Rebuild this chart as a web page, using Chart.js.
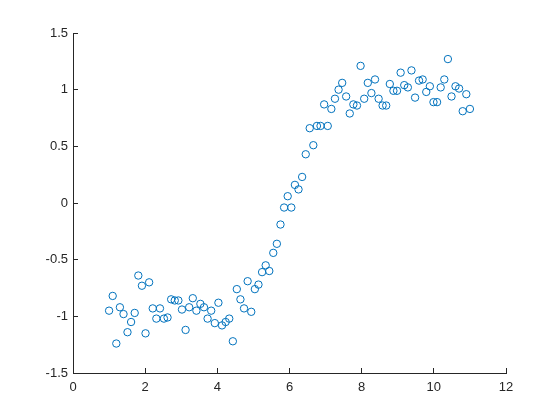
<!DOCTYPE html>
<html>
<head>
<meta charset="utf-8">
<script src="https://cdn.jsdelivr.net/npm/chart.js@4"></script>
<style>
  html, body { margin: 0; padding: 0; background: #ffffff; }
  canvas { display: block; }
</style>
</head>
<body>
<canvas id="scatterChart" width="560" height="420"></canvas>
<script>
const xValues = [
    1.00, 1.10, 1.20, 1.30, 1.40, 1.51, 1.61, 1.71, 1.81, 1.91,
    2.01, 2.11, 2.21, 2.31, 2.41, 2.52, 2.62, 2.72, 2.82, 2.92,
    3.02, 3.12, 3.22, 3.32, 3.42, 3.53, 3.63, 3.73, 3.83, 3.93,
    4.03, 4.13, 4.23, 4.33, 4.43, 4.54, 4.64, 4.74, 4.84, 4.94,
    5.04, 5.14, 5.24, 5.34, 5.44, 5.55, 5.65, 5.75, 5.85, 5.95,
    6.05, 6.15, 6.25, 6.35, 6.45, 6.56, 6.66, 6.76, 6.86, 6.96,
    7.06, 7.16, 7.26, 7.36, 7.46, 7.57, 7.67, 7.77, 7.87, 7.97,
    8.07, 8.17, 8.27, 8.37, 8.47, 8.58, 8.68, 8.78, 8.88, 8.98,
    9.08, 9.18, 9.28, 9.38, 9.48, 9.59, 9.69, 9.79, 9.89, 9.99,
    10.09, 10.19, 10.29, 10.39, 10.49, 10.60, 10.70, 10.80, 10.90, 11.00
];
const yValues = [
    -0.95, -0.82, -1.24, -0.92, -0.98, -1.14, -1.05, -0.97, -0.64, -0.73,
    -1.15, -0.70, -0.93, -1.02, -0.93, -1.02, -1.01, -0.85, -0.86, -0.86,
    -0.94, -1.12, -0.92, -0.84, -0.95, -0.89, -0.92, -1.02, -0.95, -1.06,
    -0.88, -1.08, -1.05, -1.02, -1.22, -0.76, -0.85, -0.93, -0.69, -0.96,
    -0.76, -0.72, -0.61, -0.55, -0.60, -0.44, -0.36, -0.19, -0.04, 0.06,
    -0.04, 0.16, 0.12, 0.23, 0.43, 0.66, 0.51, 0.68, 0.68, 0.87,
    0.68, 0.83, 0.92, 1.00, 1.06, 0.94, 0.79, 0.87, 0.86, 1.21,
    0.92, 1.06, 0.97, 1.09, 0.92, 0.86, 0.86, 1.05, 0.99, 0.99,
    1.15, 1.04, 1.02, 1.17, 0.93, 1.08, 1.09, 0.98, 1.03, 0.89,
    0.89, 1.02, 1.09, 1.27, 0.94, 1.03, 1.01, 0.81, 0.96, 0.83
];
const xTicks = [0, 2, 4, 6, 8, 10, 12];
const yTicks = [-1.5, -1, -0.5, 0, 0.5, 1, 1.5];

const axisColor = '#262626';
const tickFont = { family: '"Liberation Sans", Arial, sans-serif', size: 13 };

const points = xValues.map((x, i) => ({ x: x, y: yValues[i] }));

new Chart(document.getElementById('scatterChart'), {
    type: 'scatter',
    data: {
        datasets: [{
            data: points,
            pointStyle: 'circle',
            pointRadius: 3.7,
            pointBorderWidth: 1,
            borderColor: '#0072BD',
            backgroundColor: 'rgba(0,0,0,0)'
        }]
    },
    options: {
        responsive: false,
        animation: false,
        layout: { padding: { left: 0, top: 33, right: 54, bottom: 0 } },
        plugins: {
            legend: { display: false },
            tooltip: { enabled: false }
        },
        scales: {
            x: {
                type: 'linear',
                min: 0,
                max: 12,
                afterBuildTicks: function (scale) {
                    scale.ticks = xTicks.map(v => ({ value: v }));
                },
                afterFit: function (scale) { scale.height = 47; },
                grid: { drawOnChartArea: false, drawTicks: true, tickLength: -5, color: axisColor },
                border: { display: true, color: axisColor, width: 1 },
                ticks: {
                    color: axisColor,
                    font: tickFont,
                    padding: 12,
                    maxRotation: 0,
                    callback: v => String(v)
                }
            },
            y: {
                type: 'linear',
                min: -1.5,
                max: 1.5,
                afterBuildTicks: function (scale) {
                    scale.ticks = yTicks.map(v => ({ value: v }));
                },
                afterFit: function (scale) { scale.width = 73; },
                grid: { drawOnChartArea: false, drawTicks: true, tickLength: -5, color: axisColor },
                border: { display: true, color: axisColor, width: 1 },
                ticks: {
                    color: axisColor,
                    font: tickFont,
                    padding: 10,
                    callback: v => String(v)
                }
            }
        }
    }
});
</script>
</body>
</html>
